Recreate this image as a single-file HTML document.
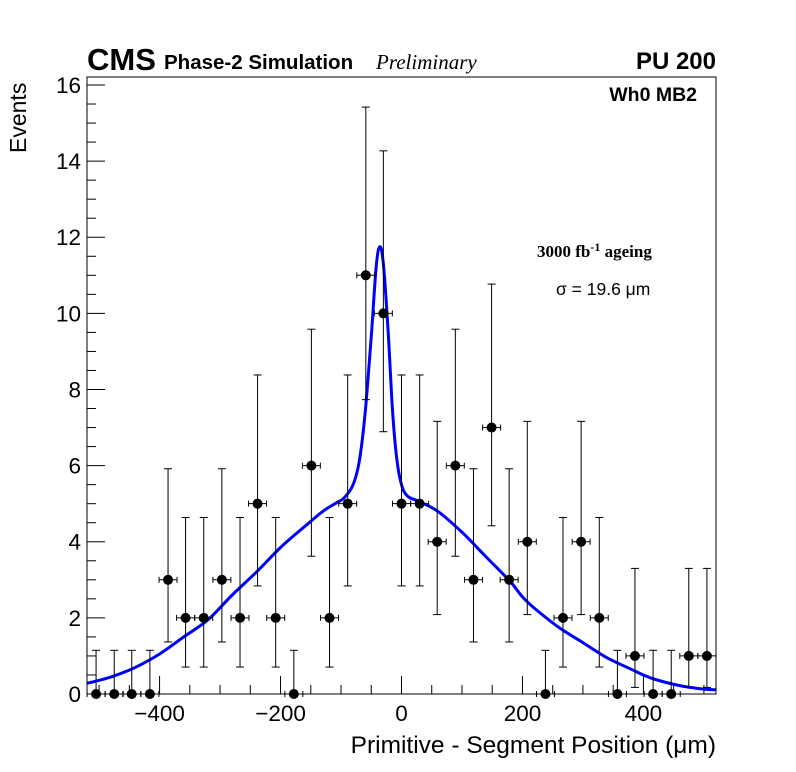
<!DOCTYPE html>
<html><head><meta charset="utf-8"><style>
html,body{margin:0;padding:0;background:#fff;}
svg{display:block;font-family:"Liberation Sans",sans-serif;}
</style></head><body>
<svg id="chart" width="796" height="772" xmlns="http://www.w3.org/2000/svg">
<rect x="0" y="0" width="796" height="772" fill="#fff"/>
<g id="axes"></g>
<g id="curve"></g>
<g id="points"></g>
<rect x="87" y="77" width="629" height="617" fill="none" stroke="#000" stroke-width="1"/>
<text x="87" y="70" font-size="31" font-weight="bold">CMS</text>
<text x="164" y="69" font-size="20.5" font-weight="bold">Phase-2 Simulation</text>
<text x="376" y="69" font-size="21" font-style="italic" font-family="Liberation Serif, serif">Preliminary</text>
<text x="716" y="69" font-size="24" font-weight="bold" text-anchor="end">PU 200</text>
<text x="697" y="101" font-size="19.5" font-weight="bold" text-anchor="end">Wh0 MB2</text>
<text x="537" y="257" font-size="17" font-weight="bold" font-family="Liberation Serif, serif">3000 fb<tspan dy="-6" font-size="12">-1</tspan><tspan dy="6"> ageing</tspan></text>
<text x="556" y="295" font-size="17.5">σ = 19.6 μm</text>
<text transform="translate(26,153) rotate(-90)" font-size="23">Events</text>
<text x="716" y="753" font-size="24.5" text-anchor="end">Primitive - Segment Position (μm)</text>
</svg>
<script>
const binCenters=[-505,-475,-446,-416,-386,-357,-327,-297,-267,-238,-208,-178,-149,-119,-89,-59,-30,0,30,59,89,119,149,178,208,238,267,297,327,357,386,416,446,475,505];
const counts=[0,0,0,0,3,2,2,3,2,5,2,0,6,2,5,11,10,5,5,4,6,3,7,3,4,0,2,4,2,0,1,0,0,1,1];
const poissonLow=[0,0.173,0.708,1.367,2.086,2.840,3.620,4.419,5.232,6.057,6.891,7.734];
const poissonHigh=[1.148,3.300,4.638,5.918,7.163,8.382,9.584,10.77,11.95,13.11,14.27,15.42];
const curveX=[-520,-480,-440,-400,-360,-320,-280,-240,-200,-160,-130,-110,-95,-80,-70,-60,-50,-42,-36,-30,-22,-15,-8,0,10,30,60,100,140,180,200,220,260,300,340,380,400,420,460,500,520];
const curveY=[0.28,0.45,0.7,1.05,1.5,1.95,2.6,3.2,3.85,4.4,4.8,5.0,5.15,5.5,6.1,7.4,9.4,11.2,11.75,11.3,9.5,7.5,6.2,5.5,5.2,5.05,4.8,4.25,3.6,2.95,2.55,2.25,1.75,1.35,0.95,0.65,0.5,0.38,0.22,0.13,0.11];
const yTicks=[0,2,4,6,8,10,12,14,16];
const xTicks=[-400,-200,0,200,400];
const binWidth=29.71;

const X0=87,X1=716,Y0=694,Y1=77;
const xmin=-520,xmax=520,ymin=0,ymax=16.21;
const sx=v=>X0+(v-xmin)/(xmax-xmin)*(X1-X0);
const sy=v=>Y0-(v-ymin)/(ymax-ymin)*(Y0-Y1);
const NS="http://www.w3.org/2000/svg";
function mk(tag,attrs,parent){const e=document.createElementNS(NS,tag);for(const k in attrs)e.setAttribute(k,attrs[k]);parent.appendChild(e);return e;}
const axes=document.getElementById('axes');
for(let v=0;v<=16.0001;v+=0.5){
  const major=Math.abs(v/2-Math.round(v/2))<1e-6;
  const t=mk('line',{x1:X0,x2:X0+(major?18:9),y1:sy(v),y2:sy(v),stroke:'#000','stroke-width':1},axes);
  
  
}
yTicks.forEach(v=>{
  const t=mk('text',{x:X0-6,y:sy(v)+8,'font-size':22.5,'text-anchor':'end'},axes);
  t.textContent=v;
  
  
});
for(let v=-500;v<=500;v+=50){
  const major=v%200===0;
  const t=mk('line',{x1:sx(v),x2:sx(v),y1:Y0,y2:Y0-(major?18:9),stroke:'#000','stroke-width':1},axes);
  
  
}
xTicks.forEach(v=>{
  const t=mk('text',{x:sx(v),y:Y0+27,'font-size':22.5,'text-anchor':'middle'},axes);
  t.textContent=(v<0?'\u2212'+(-v):v);
  
  
});
// smooth curve (Catmull-Rom)
const cg=document.getElementById('curve');
const P=curveX.map((x,i)=>[sx(x),sy(curveY[i])]);
let d='M'+P[0][0].toFixed(1)+','+P[0][1].toFixed(1);
for(let i=0;i<P.length-1;i++){
  const p0=P[Math.max(0,i-1)],p1=P[i],p2=P[i+1],p3=P[Math.min(P.length-1,i+2)];
  const c1=[p1[0]+(p2[0]-p0[0])/6,p1[1]+(p2[1]-p0[1])/6];
  const c2=[p2[0]-(p3[0]-p1[0])/6,p2[1]-(p3[1]-p1[1])/6];
  d+=' C'+c1[0].toFixed(1)+','+c1[1].toFixed(1)+' '+c2[0].toFixed(1)+','+c2[1].toFixed(1)+' '+p2[0].toFixed(1)+','+p2[1].toFixed(1);
}
const path=mk('path',{d:d,fill:'none',stroke:'#0000ff','stroke-width':3,'stroke-linejoin':'round'},cg);


const pg=document.getElementById('points');
binCenters.forEach((c,i)=>{
  const n=counts[i];
  const g=mk('g',{},pg);
  
  
  const x=sx(c),y=sy(n);
  const lo=sy(poissonLow[n]),hi=sy(poissonHigh[n]);
  const xl=sx(c-binWidth/2),xr=sx(c+binWidth/2);
  const s={stroke:'#000','stroke-width':1};
  mk('line',Object.assign({x1:x,x2:x,y1:hi,y2:lo},s),g);
  mk('line',Object.assign({x1:x-4,x2:x+4,y1:hi,y2:hi},s),g);
  if(n>0) mk('line',Object.assign({x1:x-4,x2:x+4,y1:lo,y2:lo},s),g);
  mk('line',Object.assign({x1:xl,x2:xr,y1:y,y2:y},s),g);
  mk('line',Object.assign({x1:xl,x2:xl,y1:y-3,y2:y+3},s),g);
  mk('line',Object.assign({x1:xr,x2:xr,y1:y-3,y2:y+3},s),g);
  mk('circle',{cx:x,cy:y,r:5,fill:'#000'},g);
});
</script>
</body></html>
